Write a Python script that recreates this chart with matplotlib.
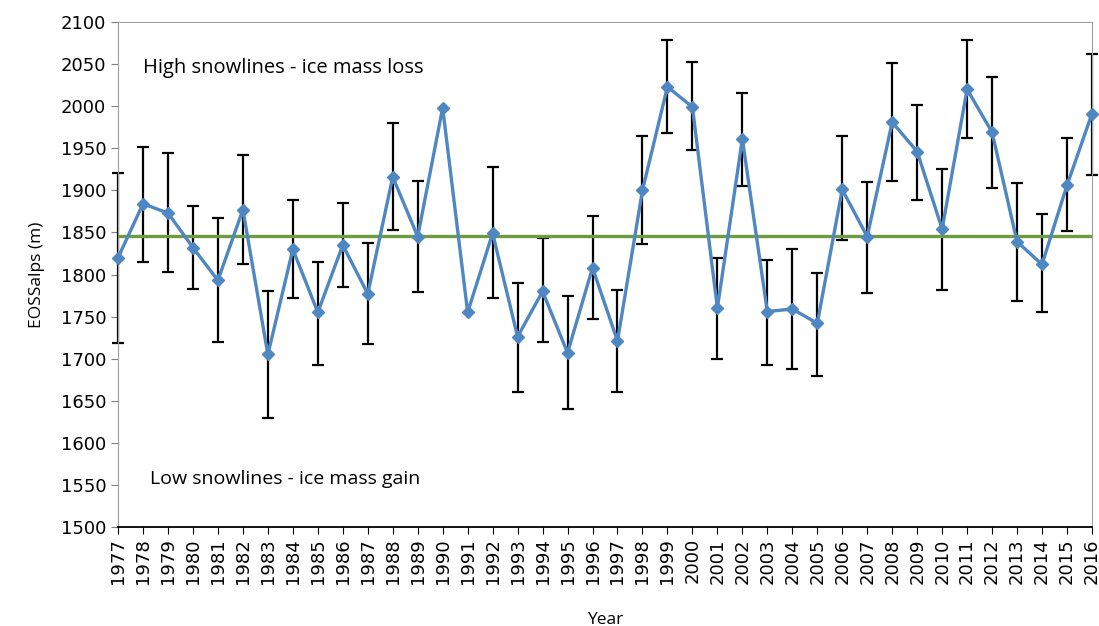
import matplotlib
matplotlib.use("Agg")
from matplotlib import pyplot as plt

# 数据
years = list(range(1977, 2017))
eos = [1820, 1884, 1873, 1832, 1793, 1877, 1705, 1830, 1755, 1835,
       1777, 1916, 1845, 1998, 1755, 1849, 1726, 1780, 1707, 1808,
       1721, 1900, 2023, 1999, 1760, 1961, 1756, 1759, 1742, 1901,
       1845, 1981, 1946, 1854, 2020, 1969, 1839, 1812, 1906, 1991]
err_low = [1719, 1815, 1803, 1783, 1720, 1812, 1630, 1772, 1693, 1785,
           1717, 1853, 1779, None, None, 1772, 1661, 1720, 1640, 1747,
           1660, 1836, 1968, 1948, 1700, 1905, 1693, 1688, 1680, 1841,
           1778, 1911, 1889, 1782, 1962, 1903, 1769, 1755, 1852, 1918]
err_high = [1921, 1951, 1944, 1881, 1867, 1942, 1780, 1888, 1815, 1885,
            1838, 1980, 1911, None, None, 1928, 1790, 1843, 1774, 1870,
            1781, 1965, 2079, 2052, 1820, 2016, 1817, 1830, 1802, 1964,
            1910, 2051, 2001, 1925, 2079, 2035, 1909, 1872, 1962, 2062]
mean_line = 1846

fig = plt.figure(figsize=(10.99, 6.26), dpi=100)
ax = fig.add_axes([0.1074, 0.1581, 0.8862, 0.8068])

# 误差棒
ex, ey, lo, hi = [], [], [], []
for x, y, l, h in zip(years, eos, err_low, err_high):
    if l is None:
        continue
    ex.append(x)
    ey.append(y)
    lo.append(y - l)
    hi.append(h - y)
eb = ax.errorbar(ex, ey, yerr=[lo, hi], fmt="none", ecolor="black",
                 elinewidth=1.6, capsize=4, capthick=1.6, zorder=2)
for c in eb.lines[1] + tuple(eb.lines[2]):
    c.set_clip_on(False)

ax.axhline(mean_line, color="#6E9B3F", lw=2.4, zorder=3)
ax.plot(years, eos, color="#4F87C2", lw=2.4, marker="D", markersize=6,
        markerfacecolor="#4F87C2", markeredgecolor="#4F87C2", zorder=4, clip_on=False)

ax.set_xlim(1977, 2016)
ax.set_ylim(1500, 2100)
ax.set_yticks(range(1500, 2101, 50))
ax.set_xticks(years)
ax.set_xticklabels([str(y) for y in years], rotation=90, fontsize=13)
ax.tick_params(axis="y", labelsize=13, direction="out", length=5, color="#808080")
ax.tick_params(axis="x", direction="out", length=5, color="black", pad=3)

for s in ["top", "right", "left"]:
    ax.spines[s].set_color("#A0A0A0")
ax.spines["bottom"].set_color("black")
ax.spines["bottom"].set_linewidth(1.3)

# 文字说明
ax.text(1978.0, 2045, "High snowlines - ice mass loss", fontsize=14.5,
        family=["Open Sans", "DejaVu Sans"], va="center", ha="left")
ax.text(1978.3, 1557, "Low snowlines - ice mass gain", fontsize=14,
        family=["Open Sans", "DejaVu Sans"], va="center", ha="left")

ax.set_ylabel("EOSSalps (m)", fontsize=12.5, family=["Open Sans", "DejaVu Sans"], labelpad=11)
ax.set_xlabel("Year", fontsize=12.5, family=["Open Sans", "DejaVu Sans"], labelpad=20)

plt.savefig("out.png", dpi=100)
